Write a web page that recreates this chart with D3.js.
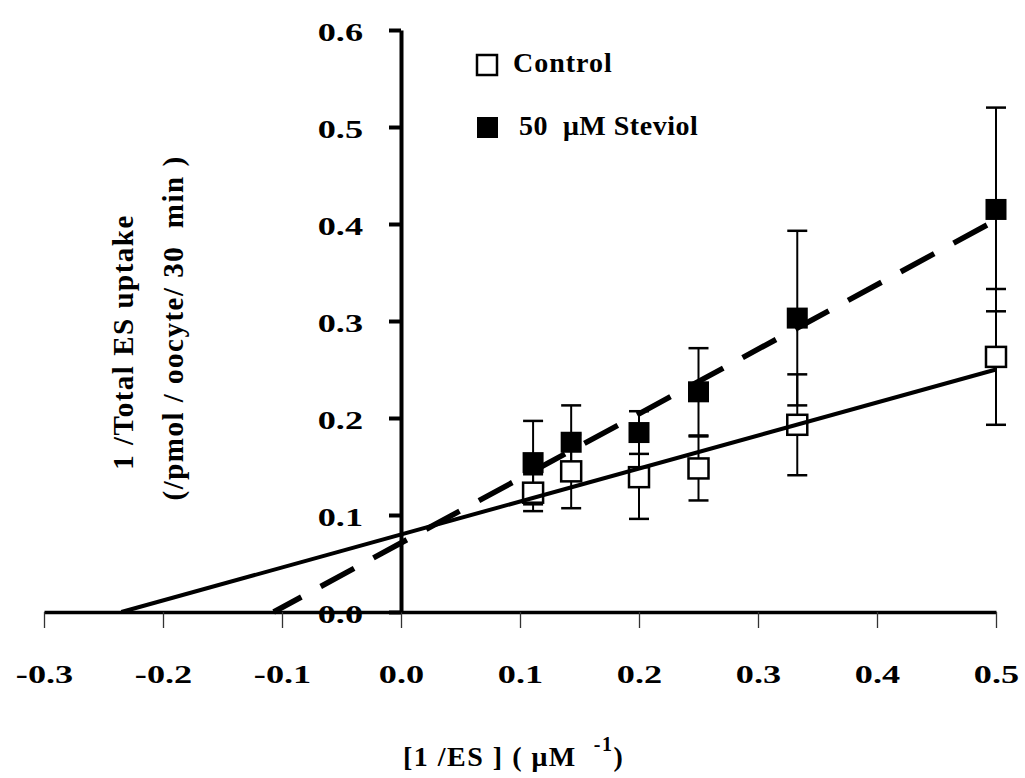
<!DOCTYPE html>
<html><head><meta charset="utf-8">
<script src="https://cdn.jsdelivr.net/npm/d3@7"></script>
<style>
html,body{margin:0;padding:0;background:#fff;}
svg{display:block;font-family:"Liberation Serif","Times New Roman",serif;font-weight:bold;}
text{white-space:pre;}
</style></head><body>
<svg id="chart" width="1025" height="778"></svg>
<script>
// ---- data ----
const xValues = [0.111, 0.143, 0.2, 0.25, 0.333, 0.5];
const controlValues = [0.123, 0.145, 0.139, 0.148, 0.193, 0.263];
const controlErrors = [0.019, 0.038, 0.043, 0.033, 0.052, 0.07];
const steviolValues = [0.154, 0.175, 0.185, 0.227, 0.303, 0.415];
const steviolErrors = [0.043, 0.038, 0.022, 0.045, 0.09, 0.105];
const controlFitX = [-0.235, 0.5];
const controlFitY = [0, 0.250];
const steviolFitX = [-0.107, 0.5];
const steviolFitY = [0, 0.404];
const xTicks = [-0.3, -0.2, -0.1, 0, 0.1, 0.2, 0.3, 0.4, 0.5];
const yTicks = [0, 0.1, 0.2, 0.3, 0.4, 0.5, 0.6];
const seriesNames = ["Control", "50  \u03bcM Steviol"];
const yTitle = ["1 /Total ES uptake", "(/pmol / oocyte/ 30  min )"];

const svg = d3.select("#chart");
svg.append("rect").attr("width", 1025).attr("height", 778).attr("fill", "#fff");

const x = d3.scaleLinear().domain([-0.3, 0.5]).range([44, 996]);
const y = d3.scaleLinear().domain([0, 0.6]).range([612, 30]);
const fmt = d => d.toFixed(1);

// X axis
const gx = svg.append("g").attr("transform", `translate(0,${y(0)})`)
  .call(d3.axisBottom(x).tickValues(xTicks).tickSize(16).tickSizeOuter(0).tickFormat(fmt));
gx.attr("font-size", null).attr("font-family", null);
gx.select(".domain").attr("stroke", "#000").attr("stroke-width", 3.5);
gx.selectAll(".tick line").attr("stroke", "#333").attr("stroke-width", 1.3);
gx.selectAll(".tick text").attr("y", 0).attr("dy", 0).attr("fill", "#000")
  .attr("font-size", 25).attr("transform", "translate(0,71) scale(1.45,1)");

// Y axis
const gy = svg.append("g").attr("transform", `translate(${x(0)},0)`)
  .call(d3.axisLeft(y).tickValues(yTicks).tickSize(12).tickSizeOuter(0).tickFormat(fmt));
gy.attr("font-size", null).attr("font-family", null);
gy.select(".domain").attr("stroke", "#000").attr("stroke-width", 4);
gy.selectAll(".tick line").attr("stroke", "#000").attr("stroke-width", 4);
gy.selectAll(".tick text").attr("x", 0).attr("dy", 0).attr("fill", "#000")
  .attr("font-size", 25).attr("transform", "translate(-38,10) scale(1.45,1)");

// Error bars
function errorBars(vals, errs) {
  const g = svg.append("g").attr("stroke", "#000");
  xValues.forEach((xv, i) => {
    const lo = vals[i] - errs[i], hi = vals[i] + errs[i];
    g.append("line").attr("x1", x(xv)).attr("x2", x(xv)).attr("y1", y(lo)).attr("y2", y(hi)).attr("stroke-width", 2);
    [lo, hi].forEach(v => g.append("line").attr("x1", x(xv) - 10).attr("x2", x(xv) + 10)
      .attr("y1", y(v)).attr("y2", y(v)).attr("stroke-width", 2.5));
  });
}
errorBars(controlValues, controlErrors);
errorBars(steviolValues, steviolErrors);

// Markers
svg.append("g").selectAll("rect").data(xValues.map((xv, i) => [xv, controlValues[i]])).join("rect")
  .attr("x", d => x(d[0]) - 10).attr("y", d => y(d[1]) - 10).attr("width", 20).attr("height", 20)
  .attr("fill", "#fff").attr("stroke", "#000").attr("stroke-width", 2.5);
svg.append("g").selectAll("rect").data(xValues.map((xv, i) => [xv, steviolValues[i]])).join("rect")
  .attr("x", d => x(d[0]) - 10.5).attr("y", d => y(d[1]) - 10.5).attr("width", 21).attr("height", 21)
  .attr("fill", "#000");

// Fit lines
const line = d3.line().x(d => x(d[0])).y(d => y(d[1]));
svg.append("path").datum(controlFitX.map((v, i) => [v, controlFitY[i]]))
  .attr("d", line).attr("fill", "none").attr("stroke", "#000").attr("stroke-width", 4);
svg.append("path").datum(steviolFitX.map((v, i) => [v, steviolFitY[i]]))
  .attr("d", line).attr("fill", "none").attr("stroke", "#000").attr("stroke-width", 5.5)
  .attr("stroke-dasharray", "38,22").attr("stroke-dashoffset", 6.5);

// Legend
svg.append("rect").attr("x", 477).attr("y", 55).attr("width", 20).attr("height", 20)
  .attr("fill", "#fff").attr("stroke", "#000").attr("stroke-width", 2.5);
svg.append("rect").attr("x", 477).attr("y", 117).attr("width", 21).attr("height", 21).attr("fill", "#000");
svg.append("text").attr("x", 513).attr("y", 72).attr("font-size", 28).attr("letter-spacing", 1).text(seriesNames[0]);
svg.append("text").attr("x", 519).attr("y", 135).attr("font-size", 28).attr("letter-spacing", 0.5).text(seriesNames[1]);

// Y title
svg.append("text").attr("transform", "translate(133,342) rotate(-90)").attr("text-anchor", "middle")
  .attr("font-size", 29).attr("letter-spacing", 1.5).text(yTitle[0]);
svg.append("text").attr("transform", "translate(183,328) rotate(-90)").attr("text-anchor", "middle")
  .attr("font-size", 29).attr("letter-spacing", 1.5).text(yTitle[1]);

// X title
const xt = svg.append("text").attr("x", 403).attr("y", 766).attr("font-size", 28).attr("letter-spacing", 1.5);
xt.append("tspan").text("[1 /ES ] ( \u03bcM  ");
xt.append("tspan").attr("font-size", 20).attr("dy", -15).text("-1");
xt.append("tspan").attr("dy", 15).text(")");
</script>
</body></html>
